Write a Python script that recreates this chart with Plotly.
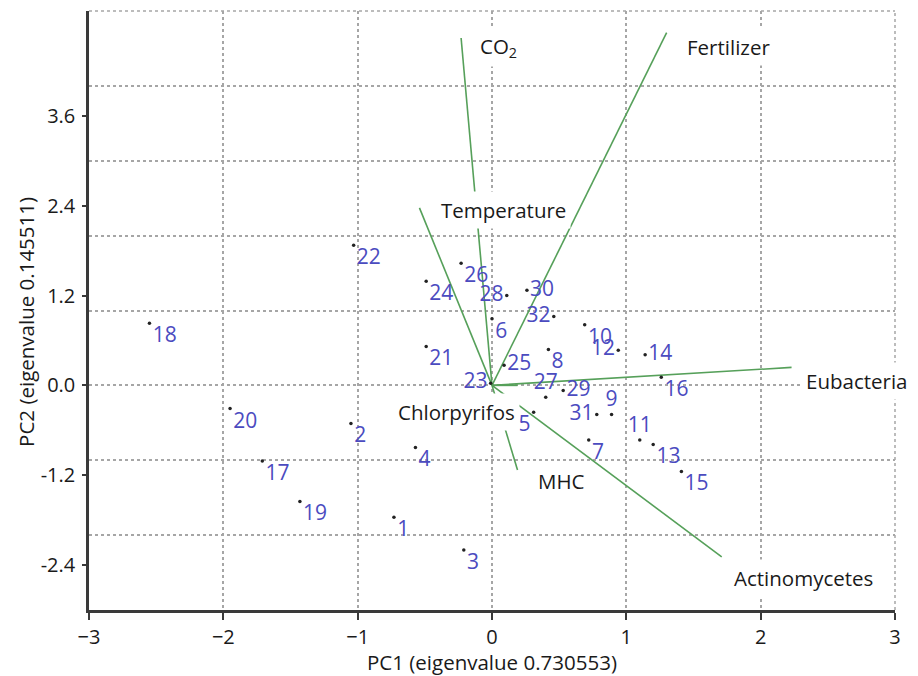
import plotly.graph_objects as go

# ---- sample scores (PC1, PC2) ----
sample_ids = [str(i) for i in range(1, 33)]
pc1 = [-0.73, -1.05, -0.21, -0.57, 0.31, 0.00, 0.72, 0.42, 0.89, 0.69,
       1.10, 0.94, 1.20, 1.14, 1.41, 1.26, -1.71, -2.55, -1.43, -1.95,
       -0.49, -1.03, -0.01, -0.49, 0.09, -0.23, 0.40, 0.11, 0.53, 0.26,
       0.78, 0.46]
pc2 = [-1.76, -0.51, -2.20, -0.83, -0.36, 0.89, -0.73, 0.48, -0.39, 0.81,
       -0.73, 0.47, -0.79, 0.41, -1.15, 0.11, -1.01, 0.83, -1.55, -0.31,
       0.52, 1.87, 0.03, 1.39, 0.27, 1.63, -0.16, 1.20, -0.07, 1.27,
       -0.39, 0.92]
label_pos = ["bottom right", "bottom right", "bottom right", "bottom right", "bottom left",
             "bottom right", "bottom right", "bottom right", "top center", "bottom right",
             "top center", "middle left", "bottom right", "middle right", "bottom right",
             "bottom right", "bottom right", "bottom right", "bottom right", "bottom right",
             "bottom right", "bottom right", "middle left", "bottom right", "middle right",
             "bottom right", "top center", "middle left", "middle right", "middle right",
             "middle left", "middle left"]

# ---- variable loadings ----
var_names = ["CO<sub>2</sub>", "Fertilizer", "Temperature", "Eubacteria",
             "Actinomycetes", "MHC", "Chlorpyrifos"]
load_pc1 = [-0.23, 1.30, -0.54, 2.23, 1.71, 0.19, 0.19]
load_pc2 = [4.64, 4.71, 2.37, 0.24, -2.29, -1.13, 0.00]
# label offsets in pixels (style)
lab_dx = [14, 15, 17, 9, 7, 15, 2]
lab_dy = [-9, -14, -2, -14, -21, -11, -27]
lab_anchor = ["left", "left", "left", "left", "left", "left", "right"]

x_ticks = [-3, -2, -1, 0, 1, 2, 3]
y_ticks = [-2.4, -1.2, 0.0, 1.2, 2.4, 3.6]
y_grid = [-3, -2, -1, 0, 1, 2, 3, 4, 5]

FONT = "Open Sans"
GREEN = "#56a05a"
BLUE = "#4b4bbf"
GRID = "#a6a6a6"
TXT = "#1a1a1a"

X_RANGE = [-3, 3]
Y_RANGE = [-3, 5]

fig = go.Figure()

# loading vectors
for i in range(len(var_names)):
    fig.add_trace(go.Scatter(
        x=[0, load_pc1[i]], y=[0, load_pc2[i]], mode="lines",
        line=dict(color=GREEN, width=1.6), hoverinfo="skip", showlegend=False))

# sample points
fig.add_trace(go.Scatter(
    x=pc1, y=pc2, mode="markers+text", text=sample_ids,
    textposition=label_pos,
    textfont=dict(family=FONT, size=21, color=BLUE),
    marker=dict(size=3.5, color="#222222"),
    showlegend=False))

# invisible trace to carry the integer grid axis
fig.add_trace(go.Scatter(x=[0], y=[0], yaxis="y2", mode="markers",
                         marker=dict(opacity=0), showlegend=False, hoverinfo="skip"))

annotations = []
for i in range(len(var_names)):
    annotations.append(dict(
        x=load_pc1[i], y=load_pc2[i], xref="x", yref="y", text=var_names[i],
        showarrow=False, xanchor=lab_anchor[i], yanchor="middle",
        xshift=lab_dx[i], yshift=lab_dy[i], bgcolor="white", borderpad=4,
        font=dict(family=FONT, size=20.5, color=TXT)))

annotations.append(dict(
    x=0.5, y=0, xref="paper", yref="paper", text="PC1 (eigenvalue 0.730553)",
    showarrow=False, xanchor="center", yanchor="middle", yshift=-52,
    font=dict(family=FONT, size=20.5, color=TXT)))
annotations.append(dict(
    x=0, y=0.481, xref="paper", yref="paper", text="PC2 (eigenvalue 0.145511)",
    showarrow=False, xanchor="center", yanchor="middle", xshift=-63, textangle=-90,
    font=dict(family=FONT, size=20.5, color=TXT)))

# dotted frame on the top and right edges (continuation of the grid)
frame = dict(color=GRID, width=1.5, dash="dot")
shapes = [
    dict(type="line", xref="paper", yref="paper", x0=0, x1=1, y0=1, y1=1, line=frame, layer="below"),
    dict(type="line", xref="paper", yref="paper", x0=1, x1=1, y0=0, y1=1, line=frame, layer="below"),
]

fig.update_layout(
    width=918, height=676,
    margin=dict(l=89, r=23, t=11, b=66),
    paper_bgcolor="white", plot_bgcolor="white",
    showlegend=False,
    font=dict(family=FONT, size=20, color=TXT),
    xaxis=dict(range=X_RANGE, tickmode="array", tickvals=x_ticks,
               showgrid=True, gridcolor=GRID, griddash="dot", gridwidth=1.5,
               zeroline=False, showline=True, linecolor="#3a3a3a", linewidth=2.5,
               ticks="outside", ticklen=7, tickcolor="#3a3a3a", tickwidth=1.5,
               ticklabelstandoff=0,
               tickfont=dict(family=FONT, size=20, color=TXT)),
    yaxis=dict(range=Y_RANGE, tickmode="array", tickvals=y_ticks,
               ticktext=[f"{v:.1f}" for v in y_ticks],
               showgrid=False, zeroline=False, showline=True,
               linecolor="#3a3a3a", linewidth=2.5,
               ticks="outside", ticklen=4, tickcolor="#3a3a3a", tickwidth=1.5,
               ticklabelstandoff=3,
               tickfont=dict(family=FONT, size=20, color=TXT)),
    yaxis2=dict(range=Y_RANGE, overlaying="y", side="right", tickmode="array",
                tickvals=y_grid, showticklabels=False, ticks="",
                showgrid=True, gridcolor=GRID, griddash="dot", gridwidth=1.5,
                zeroline=False, showline=False),
    shapes=shapes,
    annotations=annotations,
)

fig.write_html("out.html")
